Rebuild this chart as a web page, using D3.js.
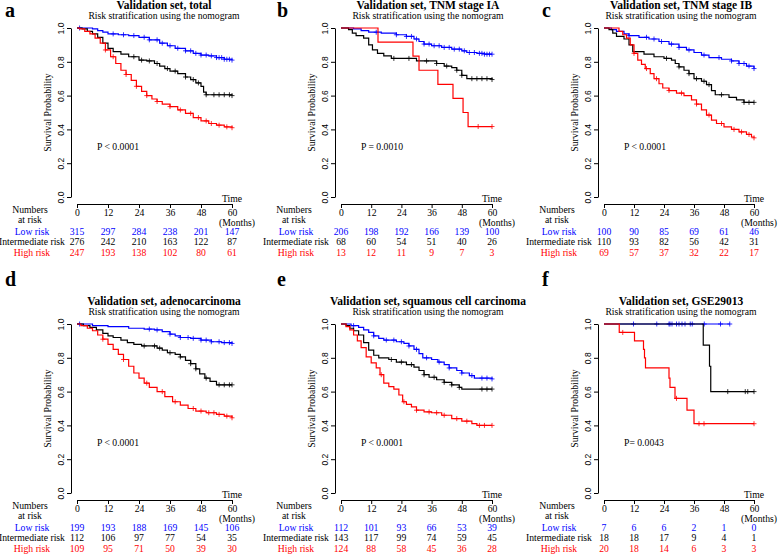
<!DOCTYPE html>
<meta charset="utf-8">
<style>
body { margin: 0; background: #fff; }
</style>
<body>
<script src="https://cdn.jsdelivr.net/npm/d3@7"></script>
<script>

// chart text
var titles = ["Validation set, total", "Validation set, TNM stage IA", "Validation set, TNM stage IB",
              "Validation set, adenocarcinoma", "Validation set, squamous cell carcinoma", "Validation set, GSE29013"];
var letters = ["a", "b", "c", "d", "e", "f"];
var pValues = ["P < 0.0001", "P = 0.0010", "P < 0.0001", "P < 0.0001", "P < 0.0001", "P= 0.0043"];
var timeTicks = [0, 12, 24, 36, 48, 60];
var survTicks = [0, 0.2, 0.4, 0.6, 0.8, 1.0];
var groups = ["Low risk", "Intermediate risk", "High risk"];
var colors = ["#0000ff", "#000000", "#ff0000"];

// KM curves: [month, survival] at each drop
var aLow = [[0,1],[6,0.995],[8,0.985],[10,0.975],[12,0.965],[16,0.96],[20,0.955],[24,0.945],[28,0.93],[32,0.91],[35,0.895],[38,0.88],[42,0.865],[45,0.85],[48,0.84],[51,0.835],[54,0.825],[57,0.815],[60,0.81]];
var aMid = [[0,1],[2,0.995],[4,0.98],[6,0.965],[8,0.945],[10,0.91],[12,0.88],[14,0.86],[17,0.845],[20,0.83],[24,0.81],[27,0.805],[30,0.79],[32,0.775],[34,0.76],[36,0.745],[39,0.73],[42,0.71],[44,0.695],[46,0.675],[48,0.655],[49,0.62],[50,0.605],[60,0.60]];
var aHigh = [[0,1],[1,0.995],[3,0.98],[5,0.965],[7,0.94],[9,0.91],[11,0.87],[13,0.83],[15,0.79],[17,0.75],[19,0.725],[21,0.69],[23,0.655],[25,0.625],[27,0.6],[29,0.58],[31,0.565],[33,0.55],[36,0.535],[39,0.515],[42,0.495],[45,0.47],[48,0.45],[51,0.435],[54,0.425],[57,0.415],[60,0.41]];
var bLow = [[0,1],[5,0.995],[8,0.985],[11,0.975],[16,0.97],[22,0.96],[26,0.95],[29,0.935],[31,0.92],[33,0.905],[36,0.895],[40,0.885],[44,0.875],[48,0.865],[50,0.855],[54,0.85],[57,0.845],[60,0.845]];
var bMid = [[0,1],[3,0.99],[4.5,0.97],[6,0.955],[9,0.94],[11,0.9],[12.5,0.87],[14.5,0.85],[17,0.835],[20,0.82],[30,0.805],[38,0.79],[41,0.775],[44,0.765],[46,0.75],[48,0.72],[50,0.70],[60,0.695]];
var bHigh = [[0,1],[14.7,0.917],[28.6,0.833],[31,0.75],[38.5,0.667],[44.5,0.583],[48.5,0.5],[50.5,0.417],[60,0.417]];
var cLow = [[0,1],[3,0.99],[5,0.98],[8,0.965],[10,0.955],[14,0.945],[18,0.935],[22,0.92],[26,0.905],[30,0.885],[33,0.87],[36,0.855],[39,0.84],[42,0.825],[47,0.815],[51,0.805],[54,0.79],[57,0.775],[60,0.76]];
var cMid = [[0,1],[2,0.99],[3.5,0.97],[5,0.95],[8,0.935],[10,0.9],[11.5,0.86],[16,0.845],[20,0.83],[24,0.82],[27,0.81],[28.5,0.79],[30,0.77],[32,0.75],[34,0.73],[36,0.70],[39,0.685],[41,0.665],[43,0.63],[44.5,0.605],[50,0.59],[53,0.575],[56,0.56],[60,0.56]];
var cHigh = [[0,1],[6,0.98],[7.5,0.96],[9,0.94],[10.5,0.9],[12,0.85],[13.5,0.81],[15,0.785],[16.5,0.76],[18.5,0.73],[20,0.70],[22,0.67],[23.5,0.645],[26,0.63],[29,0.615],[32,0.6],[35,0.575],[37,0.55],[39,0.515],[41,0.485],[43,0.455],[45,0.435],[48,0.415],[51,0.40],[54,0.385],[57,0.37],[59,0.355],[60,0.35]];
var dLow = [[0,1],[6,0.99],[12,0.985],[20,0.975],[26,0.97],[30,0.965],[33,0.955],[36,0.94],[38,0.93],[40,0.92],[44,0.915],[48,0.905],[52,0.895],[56,0.89],[60,0.885]];
var dMid = [[0,1],[2.5,0.99],[5,0.98],[7.5,0.965],[10,0.945],[12,0.93],[14,0.92],[17,0.905],[19.5,0.89],[22,0.88],[25,0.87],[31,0.857],[33,0.845],[35,0.83],[38,0.82],[40,0.805],[42,0.785],[44,0.765],[46,0.735],[47.5,0.705],[49.5,0.68],[51.5,0.66],[54,0.64],[60,0.64]];
var dHigh = [[0,1],[1.5,0.99],[4,0.975],[6,0.96],[8,0.935],[10,0.91],[12,0.88],[14,0.85],[16,0.82],[18,0.79],[20,0.75],[22,0.71],[24,0.68],[26,0.65],[28,0.625],[31,0.60],[34,0.57],[37,0.54],[40,0.52],[43,0.5],[46,0.485],[50,0.475],[54,0.465],[57,0.455],[60,0.445]];
var eLow = [[0,1],[4,0.99],[7,0.98],[9,0.965],[11,0.95],[13,0.93],[15,0.915],[17,0.905],[22,0.895],[25,0.885],[27,0.87],[29,0.85],[31,0.825],[32.5,0.80],[36,0.79],[38.5,0.775],[41,0.76],[43,0.74],[46,0.725],[48,0.71],[51,0.695],[53,0.68],[60,0.675]];
var eMid = [[0,1],[2,0.99],[3.5,0.975],[5,0.96],[7,0.935],[9,0.89],[11,0.845],[13,0.815],[15,0.80],[19,0.79],[22,0.775],[26,0.76],[29,0.745],[31,0.725],[33,0.70],[35,0.685],[38,0.67],[41,0.655],[44,0.64],[47,0.625],[48,0.615],[60,0.615]];
var eHigh = [[0,1],[2,0.985],[3.5,0.965],[5,0.935],[6.5,0.9],[8,0.86],[10,0.805],[12,0.77],[14,0.74],[15.5,0.70],[17,0.65],[19,0.63],[21,0.615],[23,0.58],[24.5,0.54],[26,0.525],[28,0.51],[30,0.49],[33,0.48],[36,0.475],[40,0.46],[44,0.44],[48,0.425],[52,0.41],[54,0.40],[60,0.40]];
var fLow = [[0,1],[50.3,1]];
var fMid = [[0,1],[39.7,0.875],[42.2,0.75],[42.7,0.60],[60,0.60]];
var fHigh = [[0,1],[6.1,0.95],[12.2,0.90],[15.8,0.85],[16.2,0.80],[16.6,0.74],[26,0.68],[26.4,0.625],[28.4,0.56],[33.2,0.49],[36,0.41],[60,0.41]];

// censoring times (months)
var aLowCens = [1,14,18,22,26,28,31,33,36,39,42,44,46,48,50,52,54,55,56,57,58,59,60];
var aMidCens = [22,25,28,31,35,38,42,45,47,50,53,55,57,59,60];
var aHighCens = [11,14,19,23,27,31,36,40,44,47,50,52,55,58,60];
var bLowCens = [14,22,26,28,30,33,35,37,39,41,43,45,47,49,51,53,55,56,57,58,59,60];
var bMidCens = [21,27,34,38,42,46,48,52,54,56,58,60];
var bHighCens = [54.5,60];
var cLowCens = [10,17,20,23,27,30,34,40,46,51,54,56,58,60];
var cMidCens = [25,30,34,37,40,42,47,56,58,60];
var cHighCens = [12,17,21,26,31,37,42,47,52,55,58,60];
var dLowCens = [1,28,31,36,40,43,45,48,50,52,55,57,59,60];
var dMidCens = [26,30,32,36,40,44,46,50,55,57,59,60];
var dHighCens = [10,18,27,33,38,45,48,51,53,55,58,60];
var eLowCens = [5,13,18,21,24,27,30,34,39,43,48,52,56,58,60];
var eMidCens = [20,24,28,33,37,41,44,47,56,58,60];
var eHighCens = [16,25,30,35,38,41,46,50,55,57,60];
var fLowCens = [11.8,21.1,26,26.4,27.2,29,30,31.2,32.4,34.5,35.3,40.1,46.6,50.3];
var fMidCens = [49.5,56.5,57.5,60];
var fHighCens = [7.5,29,38,40,60];

// numbers at risk (low, intermediate, high)
var riskA = [[315,297,284,238,201,147],[276,242,210,163,122,87],[247,193,138,102,80,61]];
var riskB = [[206,198,192,166,139,100],[68,60,54,51,40,26],[13,12,11,9,7,3]];
var riskC = [[100,90,85,69,61,46],[110,93,82,56,42,31],[69,57,37,32,22,17]];
var riskD = [[199,193,188,169,145,106],[112,106,97,77,54,35],[109,95,71,50,39,30]];
var riskE = [[112,101,93,66,53,39],[143,117,99,74,59,45],[124,88,58,45,36,28]];
var riskF = [[7,6,6,2,1,0],[18,18,17,9,4,1],[20,18,14,6,3,3]];

var panels = [
  {curves: [aLow, aMid, aHigh], cens: [aLowCens, aMidCens, aHighCens], risk: riskA},
  {curves: [bLow, bMid, bHigh], cens: [bLowCens, bMidCens, bHighCens], risk: riskB},
  {curves: [cLow, cMid, cHigh], cens: [cLowCens, cMidCens, cHighCens], risk: riskC},
  {curves: [dLow, dMid, dHigh], cens: [dLowCens, dMidCens, dHighCens], risk: riskD},
  {curves: [eLow, eMid, eHigh], cens: [eLowCens, eMidCens, eHighCens], risk: riskE},
  {curves: [fLow, fMid, fHigh], cens: [fLowCens, fMidCens, fHighCens], risk: riskF}
];

var serif = "'Liberation Serif', 'Times New Roman', 'DejaVu Serif', serif";
var sans = "'Liberation Sans', Arial, sans-serif";

// layout of the 3x2 grid
var colX0 = [77, 341, 604],
    colX1 = [232, 492, 754],
    colLetter = [5, 277, 542],
    colTitle = [87, 87, 77],
    rowTop = [28, 324],
    rowBot = [197, 493],
    rowLetter = [17, 286];

var svg = d3.select("body").append("svg")
    .attr("width", 778)
    .attr("height", 556);

// survival at time t from a step curve
function survAt(curve, t) {
  var s = 1;
  curve.forEach(function(p) { if (p[0] <= t) s = p[1]; });
  return s;
}

// helper for plain serif labels
function label(g, x, y, txt, anchor, color) {
  return g.append("text")
      .attr("x", x).attr("y", y)
      .attr("text-anchor", anchor || "start")
      .attr("fill", color || "#000")
      .style("font-family", serif)
      .style("font-size", "9.7px")
      .text(txt);
}

panels.forEach(function(p, i) {
  var col = i % 3, row = Math.floor(i / 3);
  var x0 = colX0[col];
  var x = d3.scaleLinear().domain([0, 60]).range([x0, colX1[col]]);
  var y = d3.scaleLinear().domain([0, 1]).range([rowBot[row], rowTop[row]]);
  var g = svg.append("g");
  var axisY = rowBot[row] + 7;

  // panel letter
  g.append("text")
      .attr("x", colLetter[col]).attr("y", rowLetter[row])
      .style("font-family", serif)
      .style("font-size", "20px").style("font-weight", "bold")
      .text(letters[i]);

  // titles
  g.append("text")
      .attr("x", x0 + colTitle[col]).attr("y", rowTop[row] - 19.5)
      .attr("text-anchor", "middle")
      .style("font-family", serif)
      .style("font-size", "11.5px").style("font-weight", "bold")
      .text(titles[i]);
  label(g, x0 + colTitle[col], rowTop[row] - 9, "Risk stratification using the nomogram", "middle");

  // y axis, labels rotated like R
  var ya = g.append("g")
      .attr("transform", "translate(" + (x0 - 6) + ",0)")
      .call(d3.axisLeft(y).tickValues(survTicks).tickFormat(d3.format(".1f")).tickSize(4).tickSizeOuter(0));
  ya.selectAll("text")
      .attr("x", null).attr("dy", null)
      .attr("transform", "translate(-7.5,0) rotate(-90)")
      .style("text-anchor", "middle")
      .style("font-family", sans)
      .style("font-size", "8.5px");
  g.append("text")
      .attr("text-anchor", "middle")
      .attr("transform", "translate(" + (x0 - 26) + "," + ((rowTop[row] + rowBot[row]) / 2) + ") rotate(-90)")
      .style("font-family", serif)
      .style("font-size", "9.7px")
      .text("Survival Probability");

  // x axis
  var xa = g.append("g")
      .attr("transform", "translate(0," + axisY + ")")
      .call(d3.axisBottom(x).tickValues(timeTicks).tickSize(4).tickSizeOuter(0).tickPadding(1));
  xa.selectAll("text")
      .style("font-family", serif)
      .style("font-size", "9.7px");
  g.selectAll(".domain, .tick line").attr("stroke", "#000");

  label(g, colX1[col], axisY - 2, "Time", "middle");
  label(g, colX1[col] + 5, axisY + 22, "(Months)", "middle");

  // curves
  var line = d3.line()
      .x(function(d) { return x(d[0]); })
      .y(function(d) { return y(d[1]); })
      .curve(d3.curveStepAfter);

  p.curves.forEach(function(c, k) {
    g.append("path")
        .datum(c)
        .attr("fill", "none")
        .attr("stroke", colors[k])
        .attr("stroke-width", 1.2)
        .attr("d", line);
    g.selectAll(".cens" + k)
        .data(p.cens[k])
      .enter().append("path")
        .attr("class", "cens" + k)
        .attr("transform", function(t) { return "translate(" + x(t) + "," + y(survAt(c, t)) + ")"; })
        .attr("d", "M-2.5,0H2.5M0,-2.5V2.5")
        .attr("stroke", colors[k])
        .attr("stroke-width", 0.8);
  });

  // p value
  label(g, x0 + 20, y(0.3) + 3.5, pValues[i]);

  // numbers at risk table
  label(g, x0 - 47, axisY + 9, "Numbers", "middle");
  label(g, x0 - 47, axisY + 19, "at risk", "middle");

  p.risk.forEach(function(r, k) {
    var yy = axisY + 30.5 + k * 10.8;
    label(g, x0 - 45, yy, groups[k], "middle", colors[k]);
    r.forEach(function(d, j) {
      label(g, x(timeTicks[j]), yy, d, "middle", colors[k]);
    });
  });
});

</script>
</body>
